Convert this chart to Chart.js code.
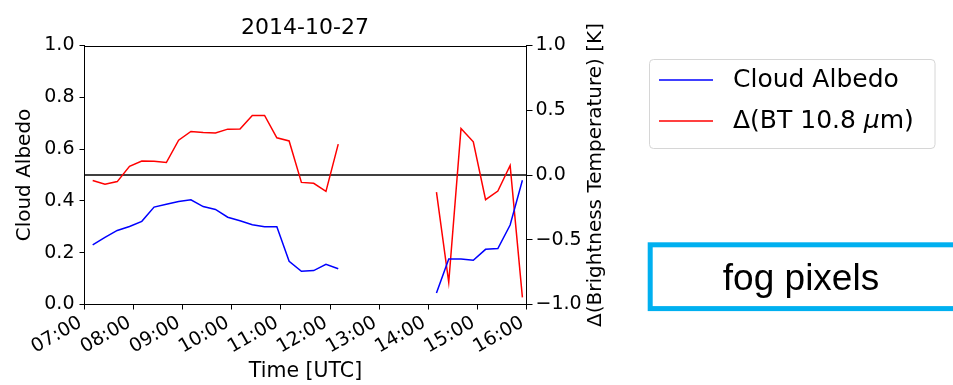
<!DOCTYPE html>
<html>
<head>
<meta charset="utf-8">
<script src="https://cdn.jsdelivr.net/npm/chart.js@4.4.0/dist/chart.umd.min.js"></script>
<style>
  html, body { margin: 0; padding: 0; background: #fff; }
  #wrap { width: 953px; height: 385px; }
</style>
</head>
<body>
<div id="wrap"><canvas id="c" width="953" height="385"></canvas></div>
<script>
/* fog pixel time series, 2014-10-27 */
var times = [
  '07:10', '07:25', '07:40', '07:55', '08:10', '08:25', '08:40', '08:55', '09:10',
  '09:25', '09:40', '09:55', '10:10', '10:25', '10:40', '10:55', '11:10', '11:25',
  '11:40', '11:55', '12:10', '12:25', '12:40', '12:55', '13:10', '13:25', '13:40',
  '13:55', '14:10', '14:25', '14:40', '14:55', '15:10', '15:25', '15:40', '15:55'
];
var albedo = [
  0.230, 0.259, 0.286, 0.301, 0.321, 0.376, 0.387, 0.398, 0.404,
  0.378, 0.367, 0.337, 0.323, 0.308, 0.300, 0.300, 0.167, 0.128,
  0.131, 0.155, 0.138, null, null, null, null, null, null,
  null, 0.044, 0.176, 0.176, 0.171, 0.213, 0.216, 0.307, 0.480
];
var dBT = [
  -0.043, -0.072, -0.051, 0.067, 0.108, 0.106, 0.096, 0.269, 0.336,
  0.328, 0.325, 0.354, 0.356, 0.460, 0.460, 0.287, 0.263, -0.057,
  -0.064, -0.126, 0.238, null, null, null, null, null, null,
  null, -0.132, -0.829, 0.359, 0.256, -0.191, -0.124, 0.073, -0.945
];
var refTimes = ['07:00', '16:00'];
var refLevel = [0, 0];

var seriesLabels = ['Cloud Albedo', 'Δ(BT 10.8 μm)'];
var boxText = 'fog pixels';

var FONT = '"DejaVu Sans", sans-serif';

function hours(t) {
  var p = t.split(':');
  return +p[0] + (+p[1]) / 60;
}
function pts(ts, vs) {
  return ts.map(function (t, i) { return { x: hours(t), y: vs[i] }; });
}
function hhmm(v) {
  return (v < 10 ? '0' : '') + v + ':00';
}

/* frame, right axis label, legend and note box */
var extras = {
  id: 'extras',
  beforeDraw: function (chart) {
    var ctx = chart.ctx;
    ctx.save();
    ctx.fillStyle = '#fff';
    ctx.fillRect(0, 0, chart.width, chart.height);
    ctx.restore();
  },
  afterDraw: function (chart) {
    var ctx = chart.ctx, a = chart.chartArea;
    ctx.save();

    // top spine
    ctx.strokeStyle = '#000'; ctx.lineWidth = 1;
    ctx.beginPath();
    ctx.moveTo(a.left, Math.round(a.top) + 0.5);
    ctx.lineTo(a.right, Math.round(a.top) + 0.5);
    ctx.stroke();

    // right axis title, reading bottom to top
    ctx.save();
    ctx.translate(596, (a.top + a.bottom) / 2);
    ctx.rotate(-Math.PI / 2);
    ctx.fillStyle = '#000';
    ctx.font = '20px ' + FONT;
    ctx.textAlign = 'center'; ctx.textBaseline = 'middle';
    ctx.fillText('Δ(Brightness Temperature) [K]', 0, 0);
    ctx.restore();

    // legend
    var lx = 649.5, ly = 59.5, lw = 285.5, lh = 89, r = 4;
    ctx.beginPath();
    ctx.moveTo(lx + r, ly);
    ctx.arcTo(lx + lw, ly, lx + lw, ly + lh, r);
    ctx.arcTo(lx + lw, ly + lh, lx, ly + lh, r);
    ctx.arcTo(lx, ly + lh, lx, ly, r);
    ctx.arcTo(lx, ly, lx + lw, ly, r);
    ctx.closePath();
    ctx.fillStyle = 'rgba(255,255,255,0.8)';
    ctx.fill();
    ctx.strokeStyle = '#d6d6d6';
    ctx.stroke();

    var rows = [80, 121];
    chart.data.datasets.slice(0, 2).forEach(function (ds, i) {
      var y = rows[i];
      ctx.strokeStyle = ds.borderColor; ctx.lineWidth = 1.5;
      ctx.beginPath(); ctx.moveTo(659, y); ctx.lineTo(713, y); ctx.stroke();
      ctx.fillStyle = '#000'; ctx.textBaseline = 'middle'; ctx.textAlign = 'left';
      var parts = ds.label.split('μ');
      ctx.font = '25px ' + FONT;
      var x = 733;
      ctx.fillText(parts[0], x, y);
      if (parts.length > 1) {
        x += ctx.measureText(parts[0]).width;
        ctx.font = 'oblique 25px ' + FONT;
        ctx.fillText('μ', x, y);
        x += ctx.measureText('μ').width;
        ctx.font = '25px ' + FONT;
        ctx.fillText(parts[1], x, y);
      }
    });

    // note box
    ctx.strokeStyle = '#00b0f0'; ctx.lineWidth = 5;
    ctx.strokeRect(650.2, 244.8, 310, 63.8);
    ctx.fillStyle = '#000';
    ctx.font = '37px "Liberation Sans", Arial, sans-serif';
    ctx.textAlign = 'center'; ctx.textBaseline = 'alphabetic';
    ctx.fillText(boxText, 801, 290);

    ctx.restore();
  }
};

var tickFont = { family: FONT, size: 19 };

new Chart(document.getElementById('c'), {
  type: 'line',
  data: {
    datasets: [
      { label: seriesLabels[0], data: pts(times, albedo), yAxisID: 'y',
        borderColor: '#0000ff', borderWidth: 1.5, pointRadius: 0, spanGaps: false, tension: 0 },
      { label: seriesLabels[1], data: pts(times, dBT), yAxisID: 'y2',
        borderColor: '#ff0000', borderWidth: 1.5, pointRadius: 0, spanGaps: false, tension: 0 },
      { label: 'ref', data: pts(refTimes, refLevel), yAxisID: 'y2',
        borderColor: '#000', borderWidth: 1.5, pointRadius: 0 }
    ]
  },
  options: {
    responsive: false, animation: false, devicePixelRatio: 1,
    layout: { padding: { left: 0, right: 343, top: 0, bottom: 0 } },
    plugins: {
      legend: { display: false },
      tooltip: { enabled: false },
      title: {
        display: true, text: '2014-10-27', color: '#000',
        font: { family: FONT, size: 22, weight: 'normal' },
        padding: { top: 15, bottom: 4.1 }
      }
    },
    scales: {
      x: {
        type: 'linear', min: 7, max: 16,
        afterFit: function (s) { s.height = 80.5; },
        ticks: {
          stepSize: 1, minRotation: 30, maxRotation: 30, autoSkip: false,
          color: '#000', font: tickFont, padding: 2, labelOffset: -4,
          callback: function (v) { return hhmm(v); }
        },
        grid: { drawOnChartArea: false, drawTicks: true, tickLength: 5, tickColor: '#000' },
        border: { display: true, color: '#000', width: 1 },
        title: { display: true, text: 'Time [UTC]', color: '#000',
          font: { family: FONT, size: 20.5 }, padding: { top: 0, bottom: 1 } }
      },
      y: {
        position: 'left', min: 0, max: 1,
        afterFit: function (s) { s.width = 84.5; },
        ticks: { stepSize: 0.2, color: '#000', font: tickFont, padding: 5,
          callback: function (v) { return v.toFixed(1); } },
        grid: { drawOnChartArea: false, drawTicks: true, tickLength: 5, tickColor: '#000' },
        border: { display: true, color: '#000', width: 1 },
        title: { display: true, text: 'Cloud Albedo', color: '#000',
          font: { family: FONT, size: 20 }, padding: { top: 13, bottom: 0 } }
      },
      y2: {
        position: 'right', min: -1, max: 1,
        afterFit: function (s) { s.width = 83.5; },
        ticks: { stepSize: 0.5, color: '#000', font: tickFont, padding: 3,
          callback: function (v) { return (v < 0 ? '\u2212' : '') + Math.abs(v).toFixed(1); } },
        grid: { drawOnChartArea: false, drawTicks: true, tickLength: 6, tickColor: '#000' },
        border: { display: true, color: '#000', width: 1 }
      }
    }
  },
  plugins: [extras]
});
</script>
</body>
</html>
